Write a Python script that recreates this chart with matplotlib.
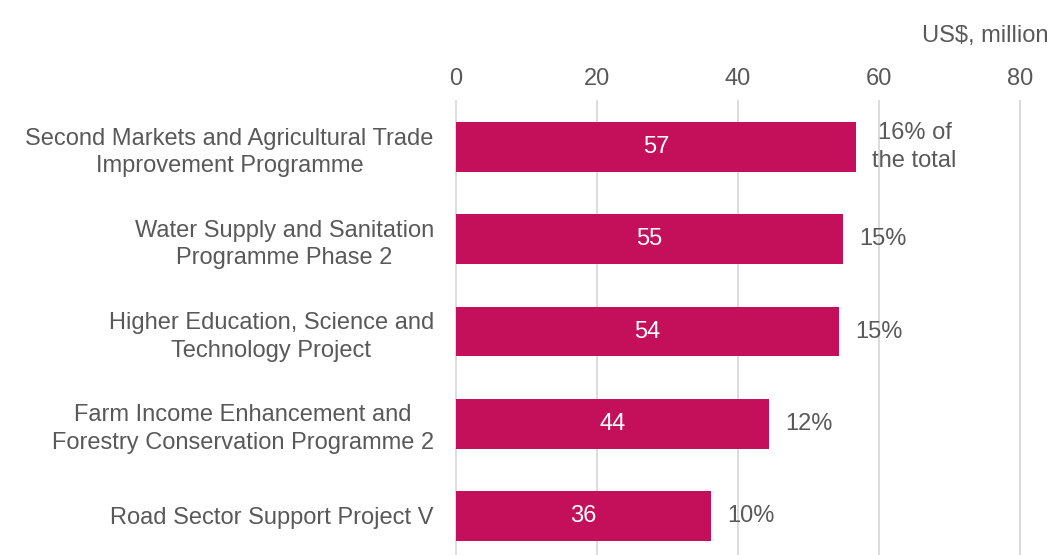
import matplotlib
matplotlib.use("Agg")
import matplotlib.pyplot as plt

plt.rcParams["font.family"] = ["Liberation Sans", "DejaVu Sans"]

# data
projects = [
    "Second Markets and Agricultural Trade\nImprovement Programme",
    "Water Supply and Sanitation\nProgramme Phase 2",
    "Higher Education, Science and\nTechnology Project",
    "Farm Income Enhancement and\nForestry Conservation Programme 2",
    "Road Sector Support Project V",
]
amounts = [56.7, 54.9, 54.3, 44.4, 36.1]
value_labels = ["57", "55", "54", "44", "36"]
share_labels = ["16% of\nthe total", "15%", "15%", "12%", "10%"]
x_ticks = [0, 20, 40, 60, 80]

bar_color = "#C4105A"
text_color = "#595959"
grid_color = "#D9D9D9"
fsize = 17
line_gap = 1.33

fig = plt.figure(figsize=(10.52, 5.55), dpi=100)
ax = fig.add_axes([456 / 1052, 1 - 562 / 555, (1020 - 456) / 1052, (562 - 101) / 555])

y = list(range(len(projects)))
ax.barh(y, amounts, height=0.54, color=bar_color, zorder=2)

ax.set_xlim(0, 80)
ax.set_ylim(len(projects) - 0.5, -0.5)
ax.set_xticks(x_ticks)
ax.set_xticklabels([str(t) for t in x_ticks])
ax.xaxis.tick_top()
ax.tick_params(axis="x", length=0, pad=8, labelsize=fsize, labelcolor=text_color)
ax.set_yticks(y)
ax.set_yticklabels(projects)
ax.tick_params(axis="y", length=0, pad=16, labelsize=fsize, labelcolor=text_color)
for lbl in ax.get_yticklabels():
    lbl.set_multialignment("center")
    lbl.set_linespacing(line_gap)

ax.grid(axis="x", color=grid_color, linewidth=1.3, zorder=0)
for gl in ax.get_xgridlines():
    gl.set_clip_on(False)
for side in ["top", "right", "bottom", "left"]:
    ax.spines[side].set_visible(False)

for i, (val, vlab, slab) in enumerate(zip(amounts, value_labels, share_labels)):
    ax.text(val / 2, i, vlab, ha="center", va="center", color="white", fontsize=fsize, zorder=3)
    ax.annotate(
        slab,
        xy=(val, i),
        xytext=(12, 0),
        textcoords="offset points",
        ha="left",
        va="center",
        multialignment="center",
        linespacing=line_gap,
        color=text_color,
        fontsize=fsize,
        zorder=3,
    )

fig.text(1048 / 1052, 1 - 36 / 555, "US$, million", ha="right", va="center",
         color=text_color, fontsize=fsize)

fig.savefig("out.png", dpi=100)
